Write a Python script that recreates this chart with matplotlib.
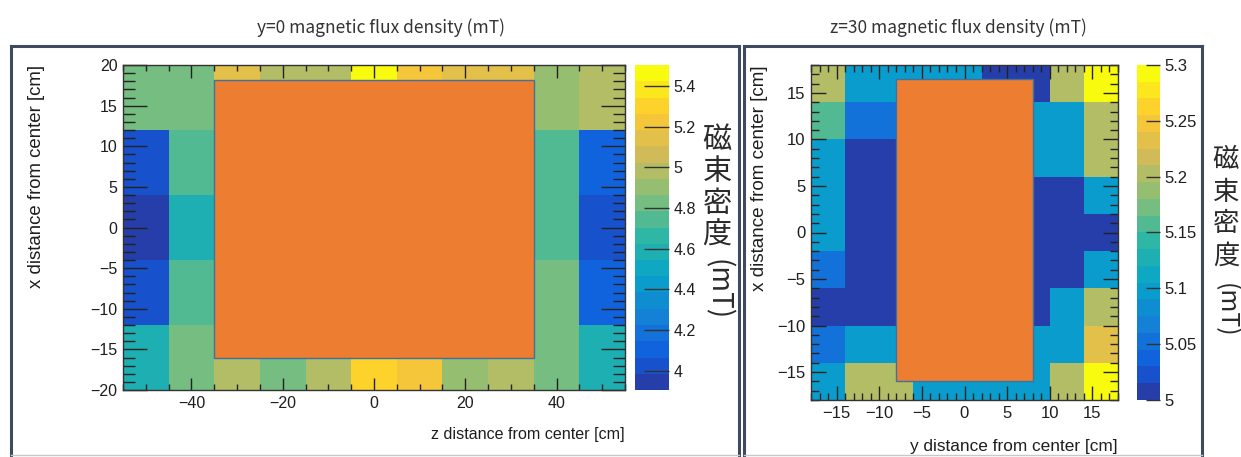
import numpy as np
import matplotlib
matplotlib.use('Agg')
import matplotlib.pyplot as plt
from matplotlib.colors import LinearSegmentedColormap, ListedColormap, Normalize
from matplotlib.patches import Rectangle
from matplotlib.lines import Line2D
from matplotlib.ticker import MultipleLocator, FuncFormatter

# ---------------- data ----------------
# left panel: y=0 plane, bins in z (cm) and x (cm)
z_edges_left = [-55, -45, -35, -25, -15, -5, 5, 15, 25, 35, 45, 55]
x_edges_left = [-20, -12, -4, 4, 12, 20]
nan = np.nan
# rows listed from top (x=+16) to bottom (x=-16); hidden cells under magnet = nan
B_left = [
    [4.824, 4.824, 5.143, 4.984, 4.984, 5.463, 5.223, 5.143, 5.143, 4.904, 4.984],
    [4.025, 4.744, nan, nan, nan, nan, nan, nan, nan, 4.744, 4.105],
    [3.945, 4.584, nan, nan, nan, nan, nan, nan, nan, 4.744, 4.025],
    [4.025, 4.744, nan, nan, nan, nan, nan, nan, nan, 4.824, 4.105],
    [4.584, 4.824, 4.984, 4.824, 4.984, 5.303, 5.223, 4.904, 4.984, 4.824, 4.584],
]
left_range = (3.905, 5.503)
left_cbar_ticks = [4.0, 4.2, 4.4, 4.6, 4.8, 5.0, 5.2, 5.4]

# right panel: z=30 plane, bins in y (cm) and x (cm)
y_edges_right = [-18, -14, -10, -6, -2, 2, 6, 10, 14, 18]
x_edges_right = [-18, -14, -10, -6, -2, 2, 6, 10, 14, 18]
B_right = [
    [5.2025, 5.0975, 5.0975, 5.0975, 5.0975, 5.0075, 5.0075, 5.2025, 5.2925],
    [5.1575, 5.0525, 5.0525, nan, nan, nan, 5.0975, 5.0975, 5.2025],
    [5.0975, 5.0075, 5.0075, nan, nan, nan, 5.0975, 5.0975, 5.2025],
    [5.0975, 5.0075, 5.0075, nan, nan, nan, 5.0075, 5.0075, 5.0975],
    [5.0975, 5.0075, 5.0075, nan, nan, nan, 5.0075, 5.0075, 5.0075],
    [5.0525, 5.0075, 5.0075, nan, nan, nan, 5.0075, 5.0075, 5.0975],
    [5.0075, 5.0075, 5.0075, nan, nan, nan, 5.0075, 5.0975, 5.2025],
    [5.0525, 5.0975, 5.0975, nan, nan, nan, 5.0975, 5.0975, 5.2325],
    [5.0975, 5.2025, 5.2025, 5.0975, 5.0975, 5.0975, 5.0975, 5.2025, 5.2925],
]
right_range = (5.0, 5.3)
right_cbar_ticks = [5.0, 5.05, 5.1, 5.15, 5.2, 5.25, 5.3]

# magnet footprint (cm): (horizontal min, horizontal max, vertical min, vertical max)
magnet_left = (-35, 35, -16, 18.2)
magnet_right = (-8, 8, -16, 16.5)

title_left = 'y=0 magnetic flux density (mT)'
title_right = 'z=30 magnetic flux density (mT)'
xlabel_left = 'z distance from center [cm]'
xlabel_right = 'y distance from center [cm]'
ylabel = 'x distance from center [cm]'
cbar_chars = ['磁', '束', '密', '度']
cbar_unit = '(mT)'

# ---------------- style ----------------
# ROOT kBird palette, 20 contour levels sampled as ROOT does
bird_r = [0.2082, 0.0592, 0.0780, 0.0232, 0.1802, 0.5301, 0.8186, 0.9956, 0.9764]
bird_g = [0.1664, 0.3599, 0.5041, 0.6419, 0.7178, 0.7492, 0.7328, 0.7862, 0.9832]
bird_b = [0.5293, 0.8684, 0.8385, 0.7914, 0.6425, 0.4662, 0.3499, 0.1968, 0.0539]
bird = LinearSegmentedColormap.from_list('kBird', list(zip(bird_r, bird_g, bird_b)), N=1024)
NLEV = 20
cmap = ListedColormap([bird((k + 0.99) / NLEV) for k in range(NLEV)])

TXT = '#1e1e1e'
SANS = 'Liberation Sans'
CJK = 'Noto Sans CJK JP'
FRAME = '#3f4a5c'

W, H = 1241, 457
fig = plt.figure(figsize=(W / 100, H / 100), dpi=100)


def fx(px):
    return px / W


def fy(py):
    return 1 - py / H


def axes_px(x0, y0, x1, y1):
    return fig.add_axes([fx(x0), fy(y1), (x1 - x0) / W, (y1 - y0) / H])


fmt = FuncFormatter(lambda v, p: ('%g' % round(v, 4)).replace('-', '\u2212'))


def style_axes(ax, xmaj, xmin, ymaj, ymin, xlen, ylen, fs):
    ax.xaxis.set_major_locator(MultipleLocator(xmaj))
    ax.xaxis.set_minor_locator(MultipleLocator(xmin))
    ax.yaxis.set_major_locator(MultipleLocator(ymaj))
    ax.yaxis.set_minor_locator(MultipleLocator(ymin))
    ax.xaxis.set_major_formatter(fmt)
    ax.yaxis.set_major_formatter(fmt)
    ax.tick_params(which='both', direction='in', top=True, right=True,
                   color='#222222', width=1.0, labelsize=fs, labelcolor=TXT)
    ax.xaxis.set_tick_params(which='major', length=xlen, pad=4)
    ax.xaxis.set_tick_params(which='minor', length=xlen / 2)
    ax.yaxis.set_tick_params(which='major', length=ylen, pad=4)
    ax.yaxis.set_tick_params(which='minor', length=ylen / 2)
    for lab in ax.get_xticklabels() + ax.get_yticklabels():
        lab.set_family(SANS)
    for s in ax.spines.values():
        s.set_color('#333333')
        s.set_linewidth(1.0)


def panel(ax, cax, hx, vy, data, rng, ticks, magnet, xmaj, xmin, ymaj, ymin,
          xlen, ylen, clen, fs):
    arr = np.ma.masked_invalid(np.flipud(np.array(data, dtype=float)))
    norm = Normalize(vmin=rng[0], vmax=rng[1])
    mesh = ax.pcolormesh(hx, vy, arr, cmap=cmap, norm=norm, shading='flat')
    ax.set_xlim(hx[0], hx[-1])
    ax.set_ylim(vy[0], vy[-1])
    ax.add_patch(Rectangle((magnet[0], magnet[2]), magnet[1] - magnet[0],
                           magnet[3] - magnet[2], facecolor='#ED7D31',
                           edgecolor='#41719C', linewidth=1.0, zorder=3))
    style_axes(ax, xmaj, xmin, ymaj, ymin, xlen, ylen, fs)
    cb = fig.colorbar(mesh, cax=cax)
    cb.outline.set_visible(False)
    cb.set_ticks(ticks)
    cb.ax.yaxis.set_major_formatter(fmt)
    cb.ax.tick_params(direction='in', length=clen, width=1.0, color='#333333',
                      pad=3, labelsize=fs, labelcolor=TXT)
    cb.ax.minorticks_off()
    for lab in cb.ax.get_yticklabels():
        lab.set_family(SANS)
    return cb


# left panel
ax1 = axes_px(123, 65, 625, 390)
cax1 = axes_px(635, 65, 669, 390)
panel(ax1, cax1, z_edges_left, x_edges_left, B_left, left_range, left_cbar_ticks,
      magnet_left, 20, 5, 5, 1, 9, 17, 18, 11.5)

# right panel
ax2 = axes_px(811, 65, 1118, 400)
cax2 = axes_px(1137, 65, 1160, 400)
panel(ax2, cax2, y_edges_right, x_edges_right, B_right, right_range, right_cbar_ticks,
      magnet_right, 5, 1, 5, 1, 10, 11, 10, 12)

# axis titles
fig.text(fx(37), fy(65), ylabel, rotation=90, ha='center', va='top',
         fontsize=13.4, family=SANS, color=TXT)
fig.text(fx(760), fy(65), ylabel, rotation=90, ha='center', va='top',
         fontsize=13.6, family=SANS, color=TXT)
fig.text(fx(625), fy(435), xlabel_left, ha='right', va='center',
         fontsize=11.6, family=SANS, color=TXT)
fig.text(fx(1118), fy(447), xlabel_right, ha='right', va='center',
         fontsize=12.4, family=SANS, color=TXT)

# colour-bar titles (vertical Japanese text)
for cx, top, fs in ((717, 140, 21), (1226, 160, 19)):
    for i, ch in enumerate(cbar_chars):
        fig.text(fx(cx), fy(top + 32 * i), ch, ha='center', va='center',
                 fontsize=fs, family=CJK, color='#2a2a2a')
    fig.text(fx(cx), fy(top + 32 * 4 + 22), cbar_unit, rotation=270, ha='center',
             va='center', fontsize=fs - 1, family=CJK, color='#2a2a2a')

# panel titles
fig.text(fx(381), fy(28), title_left, ha='center', va='center', fontsize=12.5,
         family=CJK, color='#333333')
fig.text(fx(958), fy(28), title_right, ha='center', va='center', fontsize=12.5,
         family=CJK, color='#333333')


# panel frames
def frame(x0, x1, y0, y1):
    kw = dict(transform=fig.transFigure, color=FRAME, linewidth=2.2,
              solid_capstyle='projecting')
    fig.add_artist(Line2D([fx(x0), fx(x1)], [fy(y0), fy(y0)], **kw))
    fig.add_artist(Line2D([fx(x0), fx(x0)], [fy(y0), fy(y1)], **kw))
    fig.add_artist(Line2D([fx(x1), fx(x1)], [fy(y0), fy(y1)], **kw))
    fig.add_artist(Line2D([fx(x0), fx(x1)], [fy(455), fy(455)],
                          transform=fig.transFigure, color='#c8c8c8', linewidth=1.0))


frame(11, 739, 46, 460)
frame(744, 1202, 46, 460)

fig.savefig('out.png', dpi=100)
